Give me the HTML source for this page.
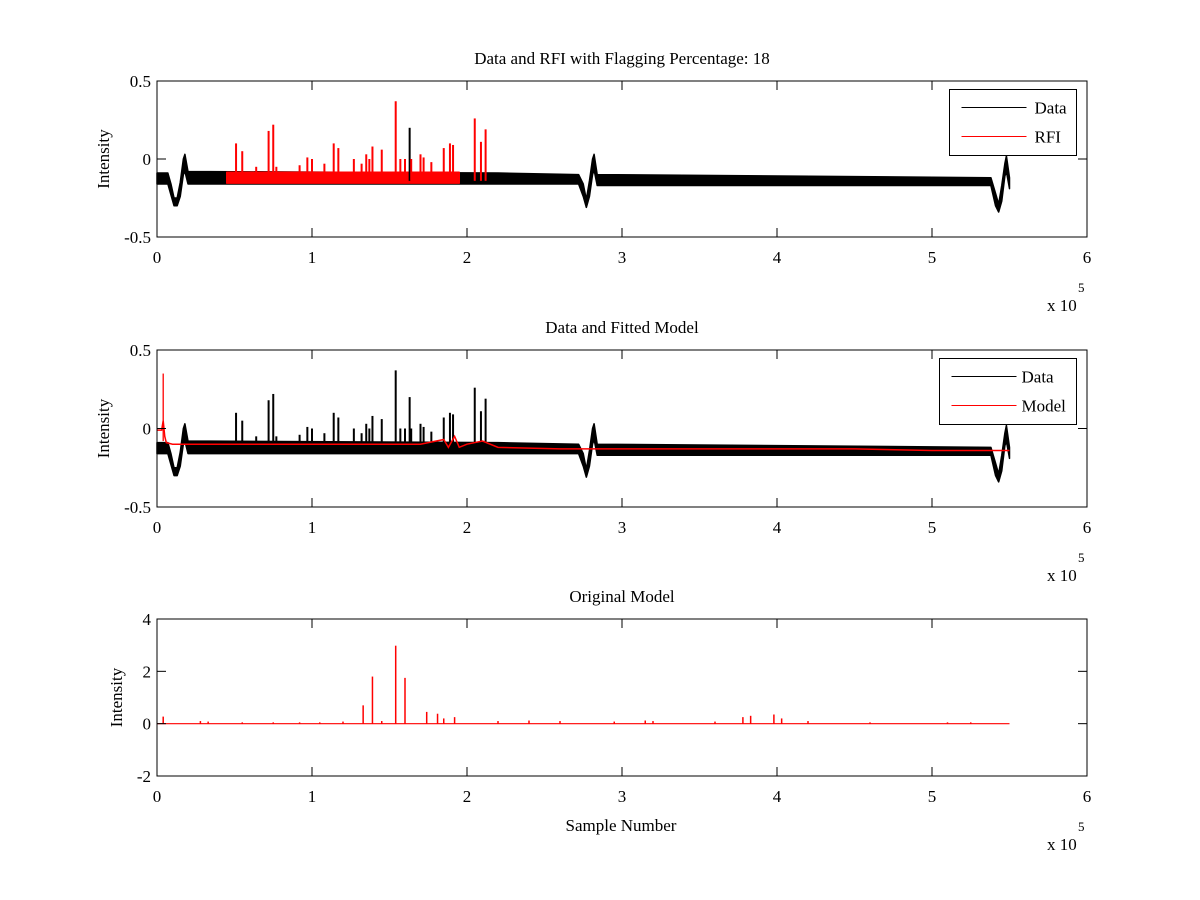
<!DOCTYPE html>
<html><head><meta charset="utf-8"><style>
html,body{margin:0;padding:0;background:#fff;}
svg{display:block;font-family:"Liberation Serif",serif;}
</style></head><body>
<svg id="fig" width="1200" height="900" viewBox="0 0 1200 900" xmlns="http://www.w3.org/2000/svg">
<rect width="1200" height="900" fill="#fff"/>
</svg>
<script>
// ---- data (x in units of 1e5 samples) ----
const bandX = [0,0.07,0.09,0.11,0.13,0.15,0.17,0.18,0.20,2.2,2.72,2.75,2.77,2.79,2.81,2.82,2.84,5.38,5.41,5.43,5.45,5.47,5.48,5.50];
const bandHi = [-0.09,-0.09,-0.16,-0.25,-0.25,-0.15,-0.0,0.03,-0.08,-0.09,-0.10,-0.16,-0.26,-0.14,-0.0,0.03,-0.10,-0.12,-0.22,-0.29,-0.17,-0.03,0.02,-0.12];
const bandLo = [-0.16,-0.16,-0.23,-0.30,-0.30,-0.24,-0.10,-0.08,-0.16,-0.16,-0.16,-0.24,-0.31,-0.24,-0.1,-0.07,-0.17,-0.17,-0.30,-0.34,-0.27,-0.11,-0.08,-0.19];
const rfiX = [0.45,1.95];
const rfiHi = [-0.085,-0.085];
const rfiLo = [-0.155,-0.155];
const spikeX = [0.51,0.55,0.64,0.72,0.75,0.77,0.92,0.97,1.0,1.08,1.14,1.17,1.27,1.32,1.35,1.37,1.39,1.45,1.54,1.57,1.60,1.63,1.64,1.70,1.72,1.77,1.85,1.89,1.91,2.05,2.09,2.12];
const spikeY = [0.10,0.05,-0.05,0.18,0.22,-0.05,-0.04,0.01,0.0,-0.03,0.10,0.07,0.0,-0.03,0.03,0.0,0.08,0.06,0.37,0.0,0.0,0.20,0.0,0.03,0.01,-0.02,0.07,0.10,0.09,0.26,0.11,0.19];
const modelX = [0,0.03,0.04,0.05,0.06,0.1,0.5,0.9,1.3,1.7,1.85,1.88,1.92,1.95,2.0,2.1,2.2,2.6,3.0,3.5,4.0,4.5,5.0,5.5];
const modelY = [-0.01,-0.01,0.05,-0.05,-0.09,-0.1,-0.1,-0.1,-0.1,-0.1,-0.07,-0.12,-0.05,-0.12,-0.1,-0.08,-0.12,-0.13,-0.13,-0.13,-0.13,-0.13,-0.14,-0.14];
const origX = [0.04,0.28,0.33,0.55,0.75,0.92,1.05,1.2,1.33,1.39,1.45,1.54,1.60,1.74,1.81,1.85,1.92,2.2,2.4,2.6,2.95,3.15,3.2,3.6,3.78,3.83,3.98,4.03,4.2,4.6,5.1,5.25];
const origY = [0.27,0.1,0.08,0.05,0.05,0.05,0.05,0.08,0.7,1.8,0.1,2.98,1.75,0.45,0.38,0.2,0.25,0.1,0.12,0.1,0.08,0.12,0.1,0.08,0.25,0.3,0.35,0.2,0.1,0.05,0.05,0.05];
const xTicks = [0,1,2,3,4,5,6];

const svg = document.getElementById('fig');
const NS = 'http://www.w3.org/2000/svg';
function mk(tag, attrs, parent){const e=document.createElementNS(NS,tag);for(const k in attrs)e.setAttribute(k,attrs[k]);(parent||svg).appendChild(e);return e;}
const L=157,R=1087;
function sx(v){return L+(v/6)*(R-L);}
const panels=[
 {top:81,bot:237,ymin:-0.5,ymax:0.5,yt:[-0.5,0,0.5],ytl:['-0.5','0','0.5'],title:'Data and RFI with Flagging Percentage: 18',name:'rfi-panel'},
 {top:350,bot:507,ymin:-0.5,ymax:0.5,yt:[-0.5,0,0.5],ytl:['-0.5','0','0.5'],title:'Data and Fitted Model',name:'model-panel'},
 {top:619,bot:776,ymin:-2,ymax:4,yt:[-2,0,2,4],ytl:['-2','0','2','4'],title:'Original Model',name:'original-panel'}
];
panels.forEach((p,i)=>{
 const sy=v=>p.bot-(v-p.ymin)/(p.ymax-p.ymin)*(p.bot-p.top);
 const g=mk('g',{});
 
 
 if(i<2){
  const band=(xs,hi,lo,col,nm)=>{
   let d='';xs.forEach((x,k)=>{d+=(k?'L':'M')+sx(x)+','+sy(hi[k]);});
   for(let k=xs.length-1;k>=0;k--)d+='L'+sx(xs[k])+','+sy(lo[k]);
   const e=mk('path',{d:d+'Z',fill:col,stroke:col,'stroke-width':1.5,'stroke-linejoin':'round'},g);
   
  };
  band(bandX,bandHi,bandLo,'#000','data-band');
  if(i===0) band(rfiX,rfiHi,rfiLo,'#f00','rfi-band');
  spikeX.forEach((x,k)=>{
   const col=(i===0&&Math.abs(x-1.63)>0.001)?'#f00':'#000';
   const e=mk('line',{x1:sx(x),x2:sx(x),y1:sy(-0.14),y2:sy(spikeY[k]),stroke:col,'stroke-width':2},g);
   
  });
  if(i===1){
   const e0=mk('line',{x1:sx(0.04),x2:sx(0.04),y1:sy(-0.08),y2:sy(0.35),stroke:'#f00','stroke-width':1.3},g);
   
   let d='';modelX.forEach((x,k)=>{d+=(k?'L':'M')+sx(x)+','+sy(modelY[k]);});
   const e=mk('path',{d:d,fill:'none',stroke:'#f00','stroke-width':1.5},g);
   
  }
 } else {
  const e=mk('line',{x1:sx(0),x2:sx(5.5),y1:sy(0),y2:sy(0),stroke:'#f00','stroke-width':1.2},g);
  
  origX.forEach((x,k)=>{
   const s=mk('line',{x1:sx(x),x2:sx(x),y1:sy(0),y2:sy(origY[k]),stroke:'#f00','stroke-width':1.5},g);
   
  });
 }
 const fr=mk('rect',{x:L,y:p.top,width:R-L,height:p.bot-p.top,fill:'none',stroke:'#000','stroke-width':1},g);
 
 xTicks.forEach(t=>{
  const x=sx(t);
  mk('line',{x1:x,x2:x,y1:p.bot,y2:p.bot-9,stroke:'#000'},g);
  mk('line',{x1:x,x2:x,y1:p.top,y2:p.top+9,stroke:'#000'},g);
  const tl=mk('text',{x:x,y:p.bot+26,'text-anchor':'middle','font-size':17},g);
  tl.textContent=t;
  
 });
 p.yt.forEach((t,k)=>{
  const y=sy(t);
  mk('line',{x1:L,x2:L+9,y1:y,y2:y,stroke:'#000'},g);
  mk('line',{x1:R,x2:R-9,y1:y,y2:y,stroke:'#000'},g);
  const tl=mk('text',{x:L-6,y:y+6,'text-anchor':'end','font-size':17},g);
  tl.textContent=p.ytl[k];
  
 });
 const tt=mk('text',{x:(L+R)/2,y:p.top-17,'text-anchor':'middle','font-size':17},g);
 tt.textContent=p.title;
 
 const yl=mk('text',{x:0,y:0,'text-anchor':'middle','font-size':17,transform:'translate('+(i===2?122:109)+','+((p.top+p.bot)/2)+') rotate(-90)'},g);
 yl.textContent='Intensity';
 
 const ex=mk('text',{x:1047,y:p.bot+74,'font-size':17},g);
 ex.textContent='x 10';
 
 const e5=mk('text',{x:1078,y:p.bot+55,'font-size':13},g);
 e5.textContent='5';
 
});
const xl=mk('text',{x:621,y:831,'text-anchor':'middle','font-size':17});
xl.textContent='Sample Number';

function legend(x,y,w,h,labels,cols,lx){
 const g=mk('g',{});
 
 mk('rect',{x:x,y:y,width:w,height:h,fill:'#fff',stroke:'#000'},g);
 labels.forEach((lab,k)=>{
  const cy=y+18+k*29;
  mk('line',{x1:x+12,x2:x+77,y1:cy,y2:cy,stroke:cols[k],'stroke-width':1},g);
  const t=mk('text',{x:x+lx,y:cy+6,'font-size':17},g);
  t.textContent=lab;
  
 });
}
legend(949.5,89.5,127,66,['Data','RFI'],['#000','#f00'],85);
legend(939.5,358.5,137,66,['Data','Model'],['#000','#f00'],82);
</script>
</body></html>
